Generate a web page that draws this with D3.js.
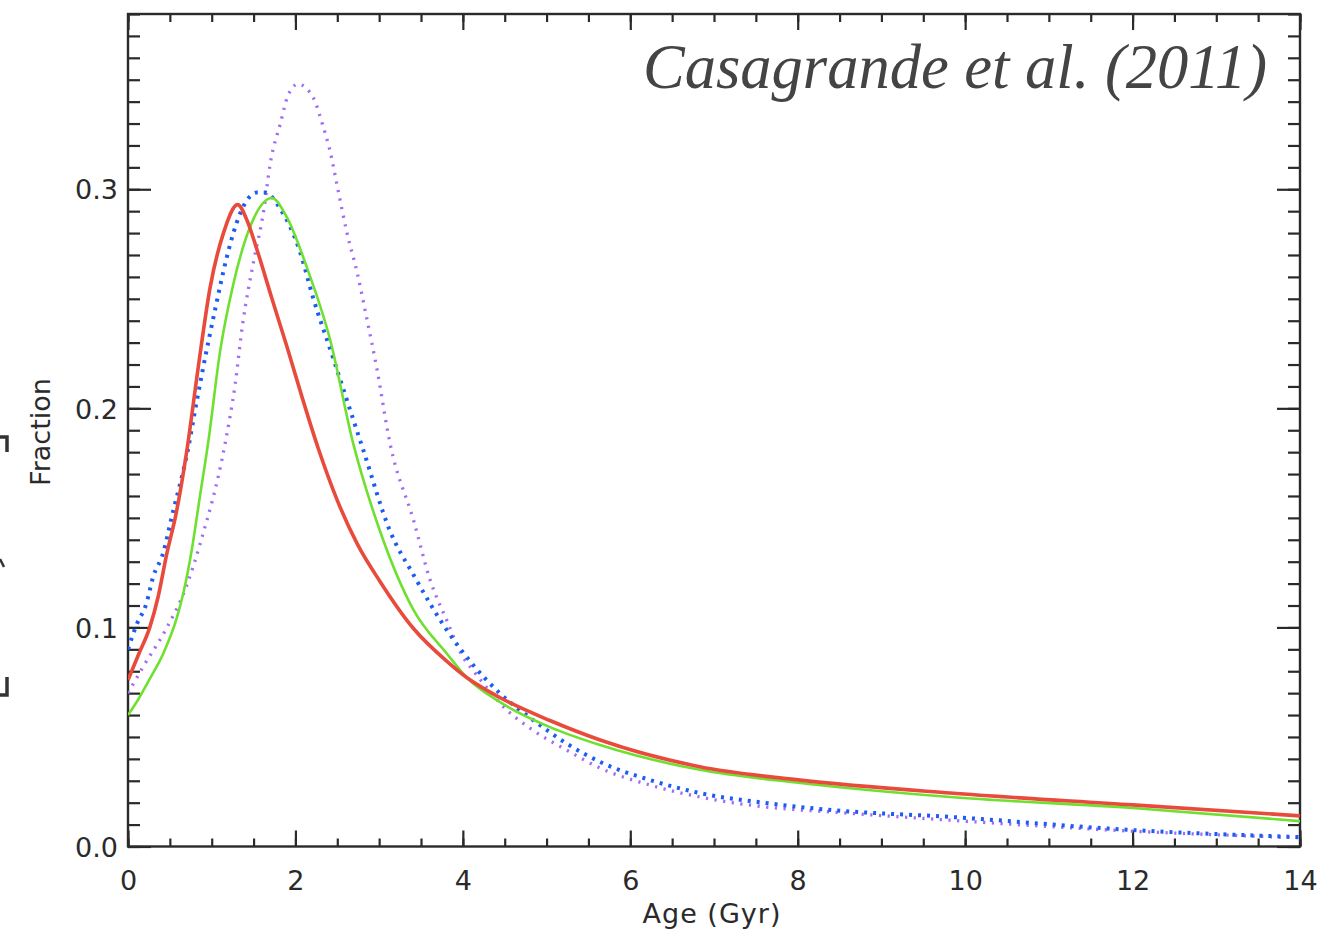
<!DOCTYPE html>
<html><head><meta charset="utf-8">
<script src="https://cdn.jsdelivr.net/npm/d3@7"></script>
<style>body{margin:0;background:#fff}</style>
</head><body><svg id="c" width="1331" height="936"></svg>
<script>
// ---- data ----
const redAge  = [0, 0.13, 0.26, 0.36, 0.46, 0.58, 0.70, 0.84, 0.98, 1.14, 1.31, 1.42, 1.54, 1.72, 1.9, 2.08, 2.27, 2.5, 2.74, 3.01, 3.41, 3.81, 4.05, 4.44, 5.04, 5.64, 6.83, 8.03, 9.82, 12, 14];
const redFrac = [0.076, 0.088, 0.100, 0.114, 0.133, 0.153, 0.180, 0.219, 0.255, 0.280, 0.293, 0.286, 0.2725, 0.250, 0.228, 0.205, 0.182, 0.158, 0.138, 0.121, 0.0995, 0.0845, 0.077, 0.068, 0.0575, 0.0486, 0.0364, 0.0303, 0.0244, 0.019, 0.014];

const greenAge  = [0, 0.12, 0.26, 0.42, 0.58, 0.66, 0.76, 0.86, 0.96, 1.10, 1.26, 1.46, 1.72, 1.90, 2.14, 2.41, 2.69, 3.01, 3.41, 3.81, 4.05, 4.44, 5.04, 5.64, 6.83, 8.03, 9.82, 12, 14];
const greenFrac = [0.060, 0.067, 0.0765, 0.088, 0.104, 0.1155, 0.135, 0.160, 0.185, 0.226, 0.257, 0.283, 0.296, 0.287, 0.264, 0.232, 0.184, 0.144, 0.108, 0.088, 0.077, 0.066, 0.0545, 0.0463, 0.035, 0.029, 0.0226, 0.0176, 0.0116];

const blueAge  = [0, 0.1, 0.22, 0.3, 0.42, 0.52, 0.72, 0.82, 0.9, 1.04, 1.18, 1.34, 1.54, 1.64, 1.82, 2.05, 2.21, 2.45, 2.81, 3.13, 3.41, 3.81, 4.12, 4.44, 4.84, 5.24, 5.64, 6.24, 6.83, 7.63, 8.42, 9.82, 12, 14];
const blueFrac = [0.090, 0.101, 0.111, 0.123, 0.134, 0.150, 0.182, 0.203, 0.219, 0.245, 0.269, 0.289, 0.2985, 0.2985, 0.291, 0.272, 0.2506, 0.223, 0.181, 0.144, 0.124, 0.0987, 0.083, 0.070, 0.0577, 0.047, 0.0386, 0.0303, 0.0244, 0.0198, 0.0166, 0.0135, 0.0075, 0.0043];

const purpleAge  = [0, 0.18, 0.46, 0.70, 0.86, 1.16, 1.28, 1.37, 1.50, 1.62, 1.70, 1.82, 1.91, 2.03, 2.21, 2.32, 2.41, 2.51, 2.61, 2.74, 2.85, 2.97, 3.13, 3.41, 3.61, 3.81, 4.0, 4.12, 4.52, 4.84, 5.24, 5.64, 6.24, 6.83, 7.63, 8.42, 9.82, 12, 14];
const purpleFrac = [0.070, 0.082, 0.0996, 0.119, 0.138, 0.184, 0.211, 0.2386, 0.267, 0.290, 0.312, 0.330, 0.3427, 0.348, 0.342, 0.330, 0.318, 0.2995, 0.281, 0.2615, 0.2415, 0.2187, 0.184, 0.149, 0.1215, 0.103, 0.0866, 0.0805, 0.0625, 0.053, 0.044, 0.0358, 0.028, 0.0226, 0.018, 0.0157, 0.012, 0.007, 0.004];

const xTicks = [0, 2, 4, 6, 8, 10, 12, 14];
const xTickLabels = ["0", "2", "4", "6", "8", "10", "12", "14"];
const yTicks = [0.0, 0.1, 0.2, 0.3];
const yTickLabels = ["0.0", "0.1", "0.2", "0.3"];
const xLabel = "Age (Gyr)";
const yLabel = "Fraction";
const titleText = "Casagrande et al. (2011)";

// ---- layout ----
const L = 128, R = 1300, T = 14, B = 846.5;
const svg = d3.select("#c");
const x = d3.scaleLinear().domain([0, 14]).range([L, R]);
const y = d3.scaleLinear().domain([0, 0.38]).range([B, T]);

const axisColor = "#2a2a2a";
const fontSans = "'DejaVu Sans', sans-serif";

function styleAxis(g) {
  g.select(".domain").remove();
  g.selectAll(".tick line").attr("stroke", axisColor).attr("stroke-width", 2.2);
  g.selectAll(".tick text").attr("fill", "#2a2a2a").style("font-family", fontSans).style("font-size", "27px");
}

const xMinor = d3.range(0, 14.001, 0.5);
const yMinor = d3.range(0, 0.3801, 0.01);

// minor ticks
svg.append("g").attr("transform", `translate(0,${B})`).call(d3.axisBottom(x).tickValues(xMinor).tickSize(-8).tickFormat("")).call(styleAxis);
svg.append("g").attr("transform", `translate(0,${T})`).call(d3.axisTop(x).tickValues(xMinor).tickSize(-8).tickFormat("")).call(styleAxis);
svg.append("g").attr("transform", `translate(${L},0)`).call(d3.axisLeft(y).tickValues(yMinor).tickSize(-12).tickFormat("")).call(styleAxis);
svg.append("g").attr("transform", `translate(${R},0)`).call(d3.axisRight(y).tickValues(yMinor).tickSize(-12).tickFormat("")).call(styleAxis);

// major ticks
svg.append("g").attr("transform", `translate(0,${B})`)
  .call(d3.axisBottom(x).tickValues(xTicks).tickSize(-16).tickPadding(0).tickFormat((d, i) => xTickLabels[i]))
  .call(styleAxis)
  .call(g => g.selectAll(".tick text").attr("y", 43).attr("dy", null));
svg.append("g").attr("transform", `translate(0,${T})`).call(d3.axisTop(x).tickValues(xTicks).tickSize(-16).tickFormat("")).call(styleAxis);
svg.append("g").attr("transform", `translate(${L},0)`)
  .call(d3.axisLeft(y).tickValues(yTicks).tickSize(-23).tickFormat((d, i) => yTickLabels[i]))
  .call(styleAxis)
  .call(g => g.selectAll(".tick text").attr("x", -10).attr("dy", "0.36em"));
svg.append("g").attr("transform", `translate(${R},0)`).call(d3.axisRight(y).tickValues(yTicks).tickSize(-23).tickFormat("")).call(styleAxis);

// frame
svg.append("rect").attr("x", L).attr("y", T).attr("width", R - L).attr("height", B - T)
  .attr("fill", "none").attr("stroke", axisColor).attr("stroke-width", 2.4);

// axis titles
svg.append("text").attr("x", (L + R) / 2 - 2).attr("y", 923).attr("text-anchor", "middle")
  .style("font-family", fontSans).style("font-size", "27px").style("letter-spacing", "1px")
  .attr("fill", "#2a2a2a").text(xLabel);
svg.append("text").attr("transform", "translate(50,432) rotate(-90)").attr("text-anchor", "middle")
  .style("font-family", fontSans).style("font-size", "27px")
  .attr("fill", "#2a2a2a").text(yLabel);

// clipped curves
svg.append("clipPath").attr("id", "clip").append("rect").attr("x", L).attr("y", T).attr("width", R - L).attr("height", B - T);
const line = d3.line().x(d => x(d[0])).y(d => y(d[1])).curve(d3.curveMonotoneX);
const series = [
  {age: purpleAge, frac: purpleFrac, color: "#a26cf2", width: 3.3, dash: "2.2 6.5"},
  {age: blueAge, frac: blueFrac, color: "#1d5cf4", width: 4, dash: "3 6"},
  {age: greenAge, frac: greenFrac, color: "#6fe030", width: 2.6, dash: null},
  {age: redAge, frac: redFrac, color: "#e84a3c", width: 3.6, dash: null}
];
const cg = svg.append("g").attr("clip-path", "url(#clip)");
series.forEach(s => {
  cg.append("path").datum(d3.zip(s.age, s.frac))
    .attr("d", line).attr("fill", "none")
    .attr("stroke", s.color).attr("stroke-width", s.width)
    .attr("stroke-dasharray", s.dash);
});

// citation label
const t = svg.append("text").attr("x", 1267).attr("y", 88).attr("text-anchor", "end")
  .style("font-family", "'Liberation Serif', serif").style("font-style", "italic")
  .style("font-size", "100px").attr("fill", "#444").text(titleText);
const w = t.node().getComputedTextLength();
t.style("font-size", (100 * 624 / w) + "px");

// cropped bracket fragments at the left edge
svg.append("path").attr("d", "M0,437H7V452").attr("fill", "none").attr("stroke", "#333").attr("stroke-width", 3.5);
svg.append("path").attr("d", "M0,559L4,567").attr("fill", "none").attr("stroke", "#333").attr("stroke-width", 2.5);
svg.append("path").attr("d", "M7,677V695H0").attr("fill", "none").attr("stroke", "#333").attr("stroke-width", 3.5);
</script>
</body></html>
